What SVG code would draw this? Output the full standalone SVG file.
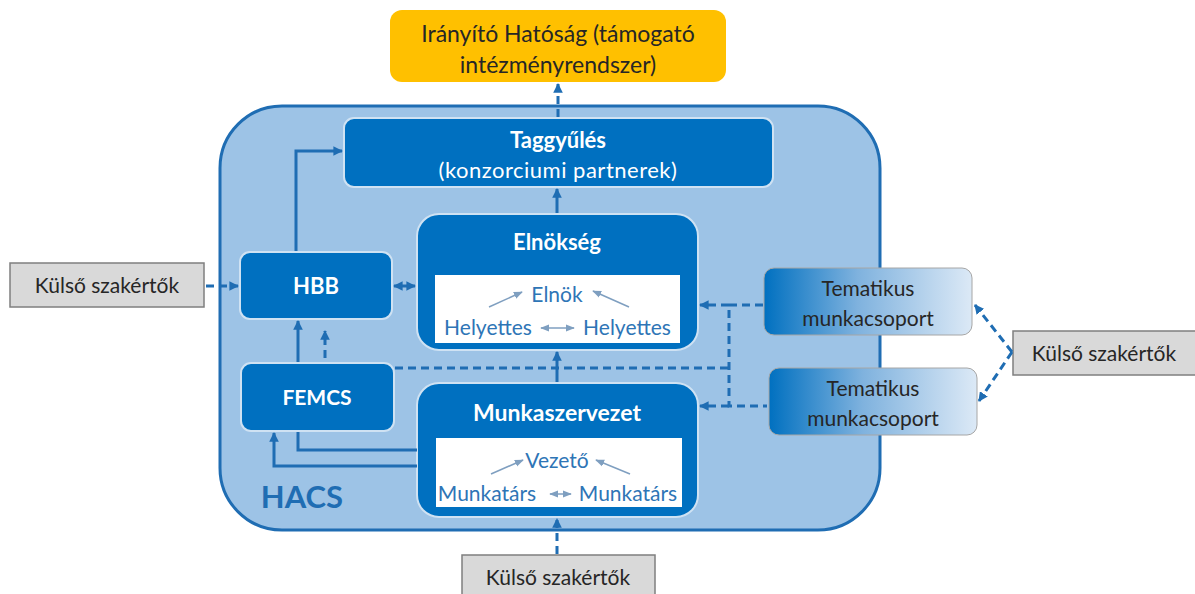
<svg xmlns="http://www.w3.org/2000/svg" width="1195" height="594" viewBox="0 0 1195 594">
<defs>
<style>
.t{font-family:Lato,"Open Sans","Liberation Sans",sans-serif;text-anchor:middle}
.w{fill:#ffffff;font-weight:bold}
.wn{fill:#ffffff}
.in{fill:#2e75b6;font-size:21px}
.dk{fill:#262626}
.ks{font-size:21px}
.tm{font-size:21px}
.node{fill:#0070c0;stroke:#cfe2f3;stroke-width:2}
.ext{fill:#d9d9d9;stroke:#7f7f7f;stroke-width:1.5}
.c{fill:none;stroke:#1f6db3;stroke-width:3}
.d{fill:none;stroke:#1f6db3;stroke-width:3;stroke-dasharray:8 5}
.s{fill:none;stroke:#7f9fc0;stroke-width:1.5}
</style>
<marker id="ah" viewBox="0 0 10 10" refX="9" refY="5" markerWidth="3.2" markerHeight="3.2" orient="auto-start-reverse"><path d="M0,0 L10,5 L0,10 z" fill="#1f6db3"/></marker>
<marker id="sh" viewBox="0 0 10 10" refX="9" refY="5" markerWidth="6" markerHeight="6" orient="auto-start-reverse"><path d="M0,1 L10,5 L0,9 z" fill="#7f9fc0"/></marker>
<linearGradient id="tg" x1="0" y1="0" x2="1" y2="0"><stop offset="0" stop-color="#0070c0"/><stop offset="0.45" stop-color="#7fb2de"/><stop offset="1" stop-color="#dce9f6"/></linearGradient>
</defs>
<rect width="1195" height="594" fill="#ffffff"/>
<g id="hacs">
<rect x="220" y="106" width="660" height="424" rx="62" fill="#9dc3e6" stroke="#1f6db3" stroke-width="3"/>
<text class="t" x="302" y="508" style="font-size:31px;font-weight:bold" fill="#1f6db3">HACS</text>
</g>
<g id="iranyito">
<rect x="390" y="10" width="336" height="72" rx="12" fill="#ffc000"/>
<text class="t dk" x="558" y="42" style="font-size:23px">Irányító Hatóság (támogató</text>
<text class="t dk" x="558" y="73" style="font-size:23px">intézményrendszer)</text>
</g>
<g id="taggyules">
<rect class="node" x="344" y="118" width="429" height="69" rx="10"/>
<text class="t w" x="558" y="148" style="font-size:22px">Taggyűlés</text>
<text class="t wn" x="558" y="178" style="font-size:22px;letter-spacing:0.5px">(konzorciumi partnerek)</text>
</g>
<g id="elnokseg">
<rect class="node" x="417" y="214" width="281" height="136" rx="22"/>
<text class="t w" x="557" y="250" style="font-size:22px">Elnökség</text>
<rect x="435" y="275" width="245" height="68" fill="#ffffff"/>
<text class="t in" x="557" y="302">Elnök</text>
<text class="t in" x="488" y="335">Helyettes</text>
<text class="t in" x="627" y="335">Helyettes</text>
<line class="s" x1="489" y1="307" x2="522" y2="292" marker-end="url(#sh)"/>
<line class="s" x1="629" y1="307" x2="593" y2="291" marker-end="url(#sh)"/>
<line class="s" x1="541" y1="328" x2="574" y2="328" marker-start="url(#sh)" marker-end="url(#sh)"/>
</g>
<g id="munkaszervezet">
<rect class="node" x="417" y="383" width="281" height="134" rx="22"/>
<text class="t w" x="557" y="421" style="font-size:23px">Munkaszervezet</text>
<rect x="436" y="438" width="246" height="69" fill="#ffffff"/>
<text class="t in" x="557" y="468">Vezető</text>
<text class="t in" x="487" y="501">Munkatárs</text>
<text class="t in" x="628" y="501">Munkatárs</text>
<line class="s" x1="491" y1="474" x2="523" y2="460" marker-end="url(#sh)"/>
<line class="s" x1="630" y1="474" x2="596" y2="460" marker-end="url(#sh)"/>
<line class="s" x1="550" y1="494" x2="571" y2="494" marker-start="url(#sh)" marker-end="url(#sh)"/>
</g>
<g id="hbb">
<rect class="node" x="240" y="252" width="152" height="67" rx="10"/>
<text class="t w" x="316" y="294" style="font-size:22px">HBB</text>
</g>
<g id="femcs">
<rect class="node" x="241" y="363" width="153" height="68" rx="10"/>
<text class="t w" x="317" y="405" style="font-size:21px">FEMCS</text>
</g>
<g id="tematikus1">
<rect x="764" y="268" width="208" height="67" rx="10" fill="url(#tg)" stroke="#a6a6a6" stroke-width="1"/>
<text class="t dk tm" x="868" y="296">Tematikus</text>
<text class="t dk tm" x="868" y="326">munkacsoport</text>
</g>
<g id="tematikus2">
<rect x="769" y="368" width="208" height="67" rx="10" fill="url(#tg)" stroke="#a6a6a6" stroke-width="1"/>
<text class="t dk tm" x="873" y="396">Tematikus</text>
<text class="t dk tm" x="873" y="426">munkacsoport</text>
</g>
<g id="kulso-bal">
<rect class="ext" x="10" y="263" width="194" height="44"/>
<text class="t dk ks" x="107" y="293">Külső szakértők</text>
</g>
<g id="kulso-jobb">
<rect class="ext" x="1013" y="331" width="185" height="44"/>
<text class="t dk ks" x="1104" y="361">Külső szakértők</text>
</g>
<g id="kulso-lent">
<rect class="ext" x="462" y="555" width="193" height="44"/>
<text class="t dk ks" x="558" y="585">Külső szakértők</text>
</g>
<g id="connectors">
<line class="d" x1="558" y1="117" x2="558" y2="84" marker-end="url(#ah)"/>
<line class="c" x1="557" y1="213" x2="557" y2="189" marker-end="url(#ah)"/>
<line class="c" x1="557" y1="382" x2="557" y2="352" marker-end="url(#ah)"/>
<polyline class="c" points="296,251 296,151 342,151" marker-end="url(#ah)"/>
<line class="c" x1="394" y1="286" x2="415" y2="286" marker-start="url(#ah)" marker-end="url(#ah)"/>
<line class="d" x1="206" y1="286" x2="238" y2="286" marker-end="url(#ah)"/>
<line class="c" x1="298" y1="362" x2="298" y2="321" marker-end="url(#ah)"/>
<line class="d" x1="325" y1="358" x2="325" y2="331" marker-end="url(#ah)"/>
<polyline class="d" points="395,368 729,368"/>
<polyline class="d" points="763,305 729,305 729,406 767,406"/>
<line class="d" x1="729" y1="305" x2="700" y2="305" marker-end="url(#ah)"/>
<line class="d" x1="729" y1="406" x2="700" y2="406" marker-end="url(#ah)"/>
<polyline class="c" points="417,450 298,450 298,432"/>
<polyline class="c" points="417,466 274,466 274,433" marker-end="url(#ah)"/>
<line class="d" x1="557" y1="554" x2="557" y2="519" marker-end="url(#ah)"/>
<line class="d" x1="1012" y1="352" x2="975" y2="305" marker-end="url(#ah)"/>
<line class="d" x1="1012" y1="352" x2="979" y2="401" marker-end="url(#ah)"/>
</g>
</svg>
